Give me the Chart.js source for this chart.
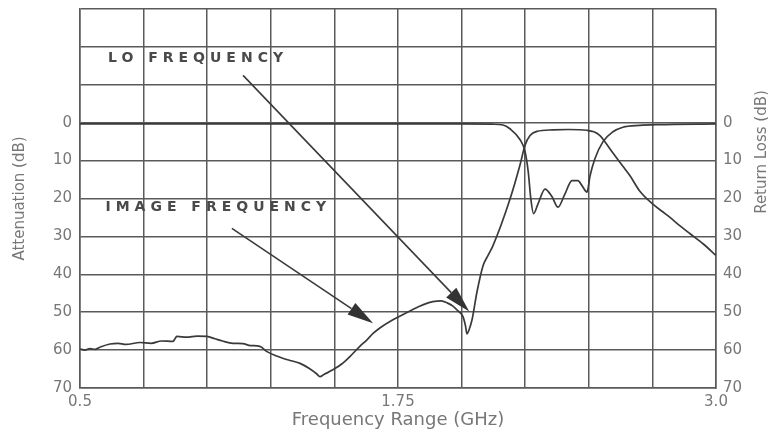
<!DOCTYPE html>
<html>
<head>
<meta charset="utf-8">
<script src="https://cdn.jsdelivr.net/npm/chart.js@4.4.1/dist/chart.umd.min.js"></script>
<style>
  html, body { margin: 0; background: #fff; }
  canvas { display: block; }
</style>
</head>
<body>
<canvas id="chart" width="768" height="432"></canvas>
<script>
// attenuation (filter response), GHz / dB
const attenFreq = [0.5, 0.52, 0.539, 0.56, 0.58, 0.618, 0.65, 0.68, 0.736, 0.78, 0.82, 0.866, 0.875, 0.881, 0.92, 0.96, 0.999, 1.03, 1.06, 1.101, 1.14, 1.17, 1.207, 1.235, 1.27, 1.3, 1.33, 1.365, 1.4, 1.431, 1.443, 1.46, 1.494, 1.53, 1.561, 1.6, 1.628, 1.652, 1.68, 1.73, 1.77, 1.81, 1.85, 1.887, 1.92, 1.945, 1.966, 1.985, 2.005, 2.015, 2.021, 2.03, 2.041, 2.06, 2.084, 2.104, 2.123, 2.19, 2.229, 2.249, 2.269, 2.296, 2.359, 2.42, 2.493, 2.52, 2.544, 2.564, 2.595, 2.634, 2.662, 2.7, 2.752, 2.8, 2.819, 2.86, 2.898, 2.95, 3.0];
const attenDb = [59.7, 60, 59.6, 59.8, 59.2, 58.4, 58.2, 58.5, 58, 58.2, 57.6, 57.7, 56.8, 56.4, 56.6, 56.3, 56.4, 57, 57.6, 58.2, 58.3, 58.8, 59, 60.4, 61.5, 62.2, 62.8, 63.5, 64.8, 66.3, 67, 66.4, 65.2, 63.6, 61.7, 59, 57.3, 55.6, 54.1, 52, 50.6, 49.2, 48, 47.2, 47, 47.6, 48.4, 49.6, 51.1, 53.5, 55.7, 54.5, 52, 44.8, 37.8, 35, 32.5, 20.2, 11.3, 6, 3.4, 2.3, 1.9, 1.8, 2.0, 2.4, 3.4, 5.1, 8, 11.5, 14, 18, 21.5, 24, 25, 27.3, 29.3, 32, 35];

// return loss, GHz / dB
const returnFreq = [0.5, 1.0, 1.5, 2.0, 2.12, 2.163, 2.19, 2.23, 2.249, 2.262, 2.272, 2.283, 2.3, 2.328, 2.355, 2.379, 2.405, 2.434, 2.457, 2.475, 2.493, 2.505, 2.524, 2.556, 2.595, 2.634, 2.7, 2.77, 3.0];
const returnDb = [0.3, 0.3, 0.3, 0.3, 0.4, 0.6, 1.6, 4.5, 7.5, 13, 20, 24, 21.5, 17.5, 19.5, 22.3, 19, 15.3, 15.3, 16.8, 18.3, 14, 9.5, 5, 2.4, 1.2, 0.7, 0.5, 0.3];

const xTickLabels = ['0.5', '1.75', '3.0'];
const yTickLabels = [0, 10, 20, 30, 40, 50, 60, 70];

const ink = '#3a3a3a';
const gridInk = '#5a5a5a';
const textInk = '#777';

const annotations = [
  { text: 'LO FREQUENCY', at: [0.61, -17], from: [1.141, -12.5], to: [2.03, 49.8] },
  { text: 'IMAGE FREQUENCY', at: [0.6, 22.3], from: [1.097, 27.9], to: [1.652, 52.9] }
];

const toPoints = (xs, ys) => xs.map((x, i) => ({ x, y: ys[i] }));

const annotate = {
  id: 'annotate',
  afterDatasetsDraw(chart) {
    const { ctx, scales: { x, y }, chartArea } = chart;
    ctx.save();
    annotations.forEach(a => {
      ctx.fillStyle = '#4a4a4a';
      ctx.font = 'bold 14px "DejaVu Sans"';
      ctx.letterSpacing = '5px';
      ctx.textBaseline = 'middle';
      ctx.fillText(a.text, x.getPixelForValue(a.at[0]), y.getPixelForValue(a.at[1]));
      ctx.letterSpacing = '0px';

      const x0 = x.getPixelForValue(a.from[0]), y0 = y.getPixelForValue(a.from[1]);
      const x1 = x.getPixelForValue(a.to[0]), y1 = y.getPixelForValue(a.to[1]);
      const ang = Math.atan2(y1 - y0, x1 - x0);
      const len = 26, half = 7;
      const bx = x1 - len * Math.cos(ang), by = y1 - len * Math.sin(ang);
      ctx.strokeStyle = ink;
      ctx.lineWidth = 1.6;
      ctx.beginPath();
      ctx.moveTo(x0, y0);
      ctx.lineTo(bx, by);
      ctx.stroke();
      ctx.fillStyle = '#333';
      ctx.beginPath();
      ctx.moveTo(x1, y1);
      ctx.lineTo(bx + half * Math.sin(ang), by - half * Math.cos(ang));
      ctx.lineTo(bx - half * Math.sin(ang), by + half * Math.cos(ang));
      ctx.closePath();
      ctx.fill();
    });

    // right axis title reads bottom-to-top like the left one
    ctx.translate(chartArea.right + 46, 152);
    ctx.rotate(-Math.PI / 2);
    ctx.font = '15px "DejaVu Sans"';
    ctx.fillStyle = textInk;
    ctx.textAlign = 'center';
    ctx.textBaseline = 'middle';
    ctx.fillText('Return Loss (dB)', 0, 0);
    ctx.restore();
  }
};

const yTicks = {
  stepSize: 10,
  color: textInk,
  font: { family: 'DejaVu Sans', size: 15 },
  callback: v => yTickLabels.includes(v) ? String(v) : ''
};

new Chart(document.getElementById('chart'), {
  type: 'line',
  data: {
    datasets: [
      { label: 'Attenuation', data: toPoints(attenFreq, attenDb), borderColor: ink, borderWidth: 1.7, pointRadius: 0, cubicInterpolationMode: 'monotone', yAxisID: 'y' },
      { label: 'Return Loss', data: toPoints(returnFreq, returnDb), borderColor: ink, borderWidth: 1.7, pointRadius: 0, cubicInterpolationMode: 'monotone', yAxisID: 'y' }
    ]
  },
  options: {
    responsive: false,
    animation: false,
    layout: { padding: { top: 9, left: 0, right: 0, bottom: 0 } },
    plugins: { legend: { display: false }, tooltip: { enabled: false } },
    scales: {
      x: {
        type: 'linear', min: 0.5, max: 3.0,
        grid: { color: gridInk, lineWidth: 1.5, drawTicks: false },
        border: { color: gridInk, width: 1.5 },
        ticks: {
          stepSize: 0.25, autoSkip: false, maxRotation: 0, padding: 5,
          color: textInk, font: { family: 'DejaVu Sans', size: 15 },
          callback: v => xTickLabels.find(t => Math.abs(parseFloat(t) - v) < 1e-6) || ''
        },
        title: { display: true, text: 'Frequency Range (GHz)', color: textInk, font: { family: 'DejaVu Sans', size: 18 }, padding: { top: 0, bottom: 1 } },
        afterFit: s => { s.height = 44; s.paddingLeft = 0; s.paddingRight = 0; }
      },
      y: {
        position: 'left', min: -30, max: 70, reverse: true,
        grid: { color: gridInk, lineWidth: 1.5, drawTicks: false },
        border: { color: gridInk, width: 1.5 },
        ticks: { ...yTicks, padding: 8 },
        title: { display: true, text: 'Attenuation (dB)', color: textInk, font: { family: 'DejaVu Sans', size: 15 }, padding: { top: 11, bottom: 0 } },
        afterFit: s => { s.width = 80; s.paddingTop = 0; s.paddingBottom = 0; }
      },
      y2: {
        position: 'right', min: -30, max: 70, reverse: true,
        grid: { display: false, drawTicks: false },
        border: { color: gridInk, width: 1.5 },
        ticks: { ...yTicks, padding: 7 },
        afterFit: s => { s.width = 52; s.paddingTop = 0; s.paddingBottom = 0; }
      }
    }
  },
  plugins: [annotate]
});
</script>
</body>
</html>
